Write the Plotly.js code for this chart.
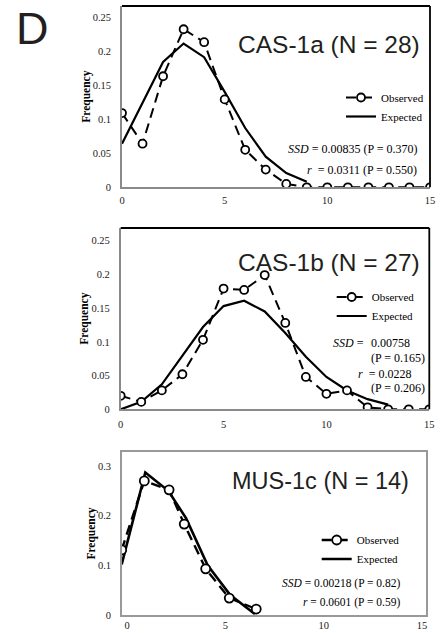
<!DOCTYPE html>
<html>
<head>
<meta charset="utf-8">
<script src="https://cdn.plot.ly/plotly-3.0.1.min.js"></script>
<style>html,body{margin:0;padding:0;background:#fff}#chart{width:442px;height:633px}</style>
</head>
<body>
<div id="chart"></div>
<script>
// ---- data ----
var xTicks = [0, 5, 10, 15];

// Panel 1: CAS-1a (N = 28)
var obs1X = [0,1,2,3,4,5,6,7,8,9,10,11,12,13,14,15];
var obs1Y = [0.109,0.064,0.163,0.232,0.213,0.129,0.055,0.026,0.005,0,0,0,0,0,0,0];
var exp1X = [0,1,2,3,4,5,6,7,8,9];
var exp1Y = [0.064,0.123,0.184,0.211,0.191,0.140,0.087,0.045,0.021,0.008];

// Panel 2: CAS-1b (N = 27)
var obs2X = [0,1,2,3,4,5,6,7,8,9,10,11,12,13,14,15];
var obs2Y = [0.020,0.011,0.028,0.052,0.103,0.179,0.177,0.199,0.128,0.048,0.023,0.028,0.003,0,0,0];
var exp2X = [0,1,2,3,4,5,6,7,8,9,10,11,12,13];
var exp2Y = [0,0.011,0.037,0.079,0.122,0.153,0.161,0.145,0.113,0.078,0.048,0.028,0.015,0.007];

// Panel 3: MUS-1c (N = 14)
var obs3X = [-0.27,0.88,2.14,2.91,4.0,5.2,6.57];
var obs3Y = [0.131,0.270,0.252,0.183,0.093,0.034,0.012];
var exp3X = [-0.27,0.93,2.1,3.0,4.1,5.25,6.5];
var exp3Y = [0.102,0.287,0.250,0.195,0.100,0.040,0.002];

var titles = ['CAS-1a (N = 28)', 'CAS-1b (N = 27)', 'MUS-1c (N = 14)'];
var panelLetter = 'D';

// ---- styling ----
var W = 442, H = 633;
function px(x){ return x / W; }
function py(y){ return 1 - y / H; }
var serif = 'Liberation Serif, Times New Roman, serif';
var sans = 'Liberation Sans, Arial, sans-serif';
var grey = '#8a8a8a';

function obsTrace(x, y, xa, ya, lg, msize, lw){
  return {x:x, y:y, xaxis:xa, yaxis:ya, type:'scatter', mode:'lines+markers', name:'Observed',
    legend:lg, showlegend:true,
    line:{color:'#000', width:lw, dash:'10px,6px'},
    marker:{symbol:'circle', size:msize, color:'#fff', line:{color:'#000', width:1.8}}};
}
function expTrace(x, y, xa, ya, lg, lw){
  return {x:x, y:y, xaxis:xa, yaxis:ya, type:'scatter', mode:'lines', name:'Expected',
    legend:lg, showlegend:true, line:{color:'#000', width:lw}};
}

var data = [
  expTrace(exp1X, exp1Y, 'x', 'y', 'legend', 2.2),
  obsTrace(obs1X, obs1Y, 'x', 'y', 'legend', 8, 2),
  expTrace(exp2X, exp2Y, 'x2', 'y2', 'legend2', 2.2),
  obsTrace(obs2X, obs2Y, 'x2', 'y2', 'legend2', 8, 2),
  expTrace(exp3X, exp3Y, 'x3', 'y3', 'legend3', 2.6),
  obsTrace(obs3X, obs3Y, 'x3', 'y3', 'legend3', 9, 2.4)
];

function xax(d0, d1, r, anchor, lc, mirror, so){
  return {domain:[px(d0), px(d1)], range:r, anchor:anchor, tickvals:xTicks, ticktext:xTicks.map(String),
    showgrid:false, zeroline:false, showline:true, linecolor:lc, linewidth:1.8, mirror:mirror,
    ticks:'', ticklabelstandoff:so, tickfont:{family:serif, size:10.5, color:'#222'}, fixedrange:true};
}
function yax(top, bot, r, dt, anchor, lc, mirror){
  return {domain:[py(bot), py(top)], range:r, anchor:anchor, dtick:dt, tick0:0,
    showgrid:false, zeroline:false, showline:true, linecolor:lc, linewidth:1.8, mirror:mirror,
    ticks:'', ticklabelstandoff:7, tickfont:{family:serif, size:10.5, color:'#222'},
    title:{text:'<b>Frequency</b>', font:{family:serif, size:11.5, color:'#000'}, standoff:0},
    fixedrange:true};
}

function legendAt(x, y, size){
  return {x:px(x), y:py(y), xanchor:'left', yanchor:'top', bgcolor:'rgba(0,0,0,0)',
    font:{family:serif, size:size, color:'#000'}, itemwidth:30, tracegroupgap:0, traceorder:'reversed'};
}

function ann(text, x, y, xanchor, size){
  return {text:text, xref:'paper', yref:'paper', x:px(x), y:py(y), xanchor:xanchor, yanchor:'middle',
    showarrow:false, font:{family:serif, size:size, color:'#000'}};
}

var annotations = [
  {text:panelLetter, xref:'paper', yref:'paper', x:px(13.5), y:py(29), xanchor:'left', yanchor:'middle',
    showarrow:false, font:{family:sans, size:45, color:'#231f20'}},
  {text:titles[0], xref:'paper', yref:'paper', x:px(422), y:py(44), xanchor:'right', yanchor:'middle',
    showarrow:false, font:{family:sans, size:24.5, color:'#231f20'}},
  {text:titles[1], xref:'paper', yref:'paper', x:px(422), y:py(262), xanchor:'right', yanchor:'middle',
    showarrow:false, font:{family:sans, size:24.5, color:'#231f20'}},
  {text:titles[2], xref:'paper', yref:'paper', x:px(410.5), y:py(481), xanchor:'right', yanchor:'middle',
    showarrow:false, font:{family:sans, size:23.5, color:'#231f20'}},
  ann('<i>SSD</i> = 0.00835 (P = 0.370)', 419, 149, 'right', 12),
  ann('<i>r</i>  = 0.0311 (P = 0.550)', 419, 170, 'right', 12),
  ann('<i>SSD</i> =', 366, 343, 'right', 12),
  ann('0.00758', 369, 343, 'left', 12),
  ann('(P = 0.165)', 369, 357.5, 'left', 12),
  ann('<i>r</i>  = 0.0228', 356, 374, 'left', 12),
  ann('(P = 0.206)', 369, 388.5, 'left', 12),
  ann('<i>SSD</i> = 0.00218 (P = 0.82)', 401.5, 583, 'right', 11.5),
  ann('<i>r</i> = 0.0601 (P = 0.59)', 401.5, 602, 'right', 11.5)
];

function borderTopRight(xa, ya){
  return [
    {type:'line', xref:xa+' domain', yref:ya+' domain', x0:0, x1:1, y0:1, y1:1, line:{color:'#000', width:1.8}},
    {type:'line', xref:xa+' domain', yref:ya+' domain', x0:1, x1:1, y0:0, y1:1, line:{color:'#000', width:1.8}}
  ];
}

var layout = {
  width:W, height:H, margin:{l:0, r:0, t:0, b:0},
  paper_bgcolor:'#fff', plot_bgcolor:'rgba(0,0,0,0)', showlegend:true,
  xaxis: xax(122, 430, [0, 15], 'y', grey, false, 2),
  yaxis: yax(6, 187.3, [0, 0.2661], 0.05, 'x', grey, false),
  xaxis2: xax(120.7, 429.3, [0, 15], 'y2', grey, false, 4),
  yaxis2: yax(228, 409.3, [0, 0.2688], 0.05, 'x2', grey, false),
  xaxis3: xax(122, 426, [-0.254, 15.2], 'y3', '#999', true, 0),
  yaxis3: yax(452, 615, [0, 0.3282], 0.1, 'x3', '#999', true),
  legend: legendAt(341, 83, 11),
  legend2: legendAt(331.7, 282.5, 11),
  legend3: legendAt(316.7, 525.5, 11),
  annotations: annotations,
  shapes: borderTopRight('x', 'y').concat(borderTopRight('x2', 'y2'))
};

Plotly.newPlot('chart', data, layout, {staticPlot:true, displayModeBar:false});
</script>
</body>
</html>
